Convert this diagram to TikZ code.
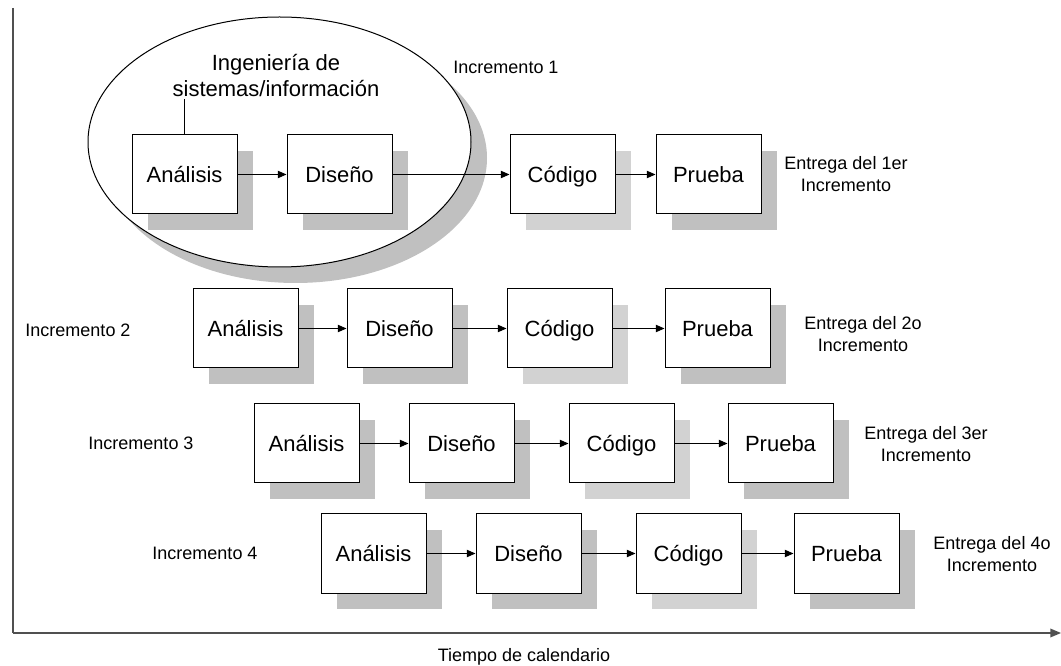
\documentclass[tikz,border=0pt]{standalone}
\usepackage{fontspec}
\setmainfont{Liberation Sans}
\usetikzlibrary{shapes.geometric,shadows,arrows.meta}
\definecolor{shd}{HTML}{C0C0C0}
\definecolor{shdl}{HTML}{D2D2D2}
\definecolor{axc}{HTML}{505050}
\begin{document}
\begin{tikzpicture}[x=0.75pt,y=-0.75pt,
  box/.style={draw=black, line width=0.75pt, fill=white,
    minimum width=78.75pt, minimum height=59.25pt, inner sep=0pt,
    text height=11.8pt, text depth=0pt,
    font=\fontsize{16.5}{20}\selectfont,
    drop shadow={shadow xshift=12pt, shadow yshift=-12pt, fill=#1, opacity=1, draw=none}},
  box/.default=shd,
  lab/.style={font=\fontsize{13.5}{16.5}\selectfont, align=center, inner sep=0pt},
  arr/.style={line width=0.75pt, -{Triangle[length=6.5pt,width=5.5pt]}},
  axis/.style={draw=axc, line width=1pt}
]
\useasboundingbox (0,0) rectangle (1061,666);

% axes
\coordinate (top) at (13,8);
\coordinate (orig) at (13,633);
\coordinate (xend) at (1061,633);
\draw[axis] (top) -- (orig);
\draw[axis, -{Triangle[length=8pt,width=6.5pt]}] (orig) -- (xend);
\node[lab] (tiempo) at (524,657) {Tiempo de calendario};

% ellipse
\node[ellipse, draw=black, line width=0.75pt, fill=white,
  minimum width=287.25pt, minimum height=187.5pt, inner sep=0pt,
  drop shadow={shadow xshift=12pt, shadow yshift=-12pt, fill=shd, opacity=1, draw=none}]
  (ell) at (279.5,142) {};
\node[font=\fontsize{16.5}{19.5}\selectfont, align=center, inner sep=1pt] (ing) at (276,76)
  {Ingeniería de\\sistemas/información};

% row 1
\node[box] (a1) at (184.5,174.5) {Análisis};
\node[box] (d1) at (339.5,174.5) {Diseño};
\node[box=shdl] (c1) at (562.5,174.5) {Código};
\node[box] (p1) at (708.5,174.5) {Prueba};
\draw[line width=0.75pt] (a1.north) -- (a1.north |- ing.south);
\draw[arr] (a1) -- (d1);
\draw[arr] (d1) -- (c1);
\draw[arr] (c1) -- (p1);
\node[lab] (inc1) at (506,67) {Incremento 1};
\node[lab] (ent1) at (846,174) {Entrega del 1er\\Incremento};

% row 2
\node[box] (a2) at (245.5,328.5) {Análisis};
\node[box] (d2) at (399.5,328.5) {Diseño};
\node[box=shdl] (c2) at (559.5,328.5) {Código};
\node[box] (p2) at (717.5,328.5) {Prueba};
\draw[arr] (a2) -- (d2);
\draw[arr] (d2) -- (c2);
\draw[arr] (c2) -- (p2);
\node[lab] (inc2) at (78,330) {Incremento 2};
\node[lab] (ent2) at (863,334) {Entrega del 2o\\Incremento};

% row 3
\node[box] (a3) at (306.5,443.5) {Análisis};
\node[box] (d3) at (461.5,443.5) {Diseño};
\node[box=shdl] (c3) at (621.5,443.5) {Código};
\node[box] (p3) at (780.5,443.5) {Prueba};
\draw[arr] (a3) -- (d3);
\draw[arr] (d3) -- (c3);
\draw[arr] (c3) -- (p3);
\node[lab] (inc3) at (141,443) {Incremento 3};
\node[lab] (ent3) at (926,444) {Entrega del 3er\\Incremento};

% row 4
\node[box] (a4) at (373.5,553.5) {Análisis};
\node[box] (d4) at (528.5,553.5) {Diseño};
\node[box=shdl] (c4) at (688.5,553.5) {Código};
\node[box] (p4) at (846.5,553.5) {Prueba};
\draw[arr] (a4) -- (d4);
\draw[arr] (d4) -- (c4);
\draw[arr] (c4) -- (p4);
\node[lab] (inc4) at (205,553) {Incremento 4};
\node[lab] (ent4) at (992,554) {Entrega del 4o\\Incremento};
\end{tikzpicture}
\end{document}
